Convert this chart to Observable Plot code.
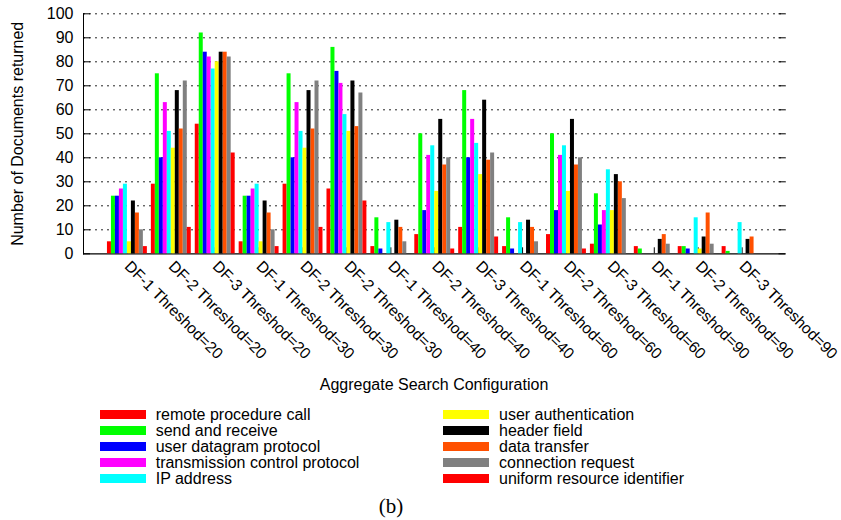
<!DOCTYPE html>
<html>
<head>
<meta charset="utf-8">
<script src="https://cdn.jsdelivr.net/npm/d3@7"></script>
<script src="https://cdn.jsdelivr.net/npm/@observablehq/plot@0.6"></script>
<style>
  body { margin: 0; background: #fff; }
  #wrap { position: relative; width: 841px; height: 520px; font-family: "Liberation Sans", Arial, Helvetica, sans-serif; color: #000; overflow: hidden; }
  #chart { position: relative; width: 841px; height: 380px; }
  #chart svg { display: block; overflow: visible; position: absolute; left: 0; top: 0; }
  .xtitle { position: absolute; left: 83px; width: 702px; top: 377px; text-align: center; font-size: 16px; line-height: 16px; white-space: nowrap; }
  .sw { position: absolute; width: 46px; height: 9px; }
  .lt { position: absolute; font-size: 16px; line-height: 16px; white-space: nowrap; }
  .cap { position: absolute; left: 341px; width: 100px; top: 496px; text-align: center; font-family: "Liberation Serif", "DejaVu Serif", serif; font-size: 21px; line-height: 21px; }
</style>
</head>
<body>
<div id="wrap">
  <div id="chart"></div>
  <div class="xtitle">Aggregate Search Configuration</div>
  <div id="legend"></div>
  <div class="cap">(b)</div>
</div>
<script>
// ---- data ----
const groupLabels = [
  "DF-1 Threshod=20", "DF-2 Threshod=20", "DF-3 Threshod=20",
  "DF-1 Threshod=30", "DF-2 Threshod=30", "DF-2 Threshod=30",
  "DF-1 Threshod=40", "DF-2 Threshod=40", "DF-3 Threshod=40",
  "DF-1 Threshod=60", "DF-2 Threshod=60", "DF-3 Threshod=60",
  "DF-1 Threshod=90", "DF-2 Threshod=90", "DF-3 Threshod=90"
];
const seriesNames = [
  "remote procedure call", "send and receive", "user datagram protocol",
  "transmission control protocol", "IP address", "user authentication",
  "header field", "data transfer", "connection request", "uniform resource identifier"
];
const seriesColors = ["#ff0000", "#00ff00", "#0000ff", "#ff00ff", "#00ffff", "#ffff00", "#000000", "#ff5000", "#808080", "#ff0000"];

const remoteProcedureCall      = [5, 29, 54, 5, 29, 27, 3, 8, 11, 3, 8, 4, 3, 3, 3];
const sendAndReceive           = [24, 75, 92, 24, 75, 86, 15, 50, 68, 15, 50, 25, 2, 3, 1];
const userDatagramProtocol     = [24, 40, 84, 24, 40, 76, 2, 18, 40, 2, 18, 12, 0, 2, 0];
const transmissionControl      = [27, 63, 82, 27, 63, 71, 0, 41, 56, 0, 41, 18, 0, 0, 0];
const ipAddress                = [29, 51, 77, 29, 51, 58, 13, 45, 46, 13, 45, 35, 0, 15, 13];
const userAuthentication       = [5, 44, 80, 5, 44, 51, 0, 26, 33, 0, 26, 18, 0, 2, 0];
const headerField              = [22, 68, 84, 22, 68, 72, 14, 56, 64, 14, 56, 33, 6, 7, 6];
const dataTransfer             = [17, 52, 84, 17, 52, 53, 11, 37, 39, 11, 37, 30, 8, 17, 7];
const connectionRequest        = [10, 72, 82, 10, 72, 67, 5, 40, 42, 5, 40, 23, 4, 4, 0];
const uniformResourceId        = [3, 11, 42, 3, 11, 22, 0, 2, 7, 0, 2, 0, 0, 0, 0];

const seriesValues = [remoteProcedureCall, sendAndReceive, userDatagramProtocol, transmissionControl,
  ipAddress, userAuthentication, headerField, dataTransfer, connectionRequest, uniformResourceId];

const yTicks = [0, 10, 20, 30, 40, 50, 60, 70, 80, 90, 100];
const yTitle = "Number of Documents returned";

const rows = seriesNames.flatMap((s, si) => seriesValues[si].map((v, gi) => ({group: gi, series: s, value: v})));
const groupIdx = d3.range(groupLabels.length);

const W = 841, H = 380, ML = 83, MR = 55.5, MT = 13.3, MB = 126.7;
const frameW = W - ML - MR;
const tickLen = 7;
const font = '"Liberation Sans", Arial, Helvetica, sans-serif';
const common = {width: W, height: H, marginLeft: ML, marginRight: MR, marginTop: MT, marginBottom: MB};

// background layer: grid, y axis, frame lines
const back = Plot.plot({
  ...common,
  style: {fontFamily: font, fontSize: "16px", background: "white", overflow: "visible"},
  y: {domain: [0, 100], axis: null},
  marks: [
    Plot.ruleY(yTicks.filter(t => t > 0), {stroke: "#000", strokeWidth: 1, strokeDasharray: "2,4", strokeOpacity: 0.85}),
    Plot.ruleY(yTicks, {stroke: "#000", strokeWidth: 1, insetRight: frameW - tickLen}),
    Plot.ruleY(yTicks, {stroke: "#000", strokeWidth: 1, insetLeft: frameW - tickLen}),
    Plot.ruleY([0], {stroke: "#000", strokeWidth: 1.3}),
    Plot.frame({anchor: "left", stroke: "#000", strokeWidth: 1}),
    Plot.text(yTicks, {y: d => d, text: d => String(d), frameAnchor: "left", textAnchor: "end", dx: -10, fontSize: 16}),
    Plot.text([yTitle], {text: d => d, frameAnchor: "left", textAnchor: "middle", lineAnchor: "middle", rotate: -90, dx: -66, fontSize: 16})
  ]
});

// bar layer (faceted by configuration)
const front = Plot.plot({
  ...common,
  style: {fontFamily: font, fontSize: "16px", background: "transparent", overflow: "visible"},
  fx: {domain: groupIdx, paddingInner: 1 / 11, paddingOuter: 6 / 11, round: false, axis: null, label: null},
  x: {domain: seriesNames, padding: 0, round: false, axis: null},
  y: {domain: [0, 100], axis: null},
  color: {domain: seriesNames, range: seriesColors},
  marks: [
    Plot.axisFx({anchor: "bottom", tickSize: -6, tickFormat: () => "", label: null, stroke: "#000"}),
    Plot.barY(rows, {fx: "group", x: "series", y: "value", fill: "series"}),
    Plot.text(groupIdx, {fx: d => d, text: d => groupLabels[d], frameAnchor: "bottom", rotate: 45, textAnchor: "start", lineAnchor: "middle", dy: 10, fontSize: 15.6})
  ]
});
const chartDiv = document.getElementById("chart");
chartDiv.appendChild(back);
chartDiv.appendChild(front);

// legend
const legend = document.getElementById("legend");
const colX = [{sw: 100, tx: 155.7}, {sw: 443, tx: 499}];
seriesNames.forEach((name, i) => {
  const col = colX[Math.floor(i / 5)];
  const cy = 414.3 + 16 * (i % 5);
  const sw = document.createElement("div");
  sw.className = "sw";
  sw.style.left = col.sw + "px";
  sw.style.top = (cy - 4.5) + "px";
  sw.style.background = seriesColors[i];
  legend.appendChild(sw);
  const t = document.createElement("div");
  t.className = "lt";
  t.style.left = col.tx + "px";
  t.style.top = (cy - 7.7) + "px";
  t.textContent = name;
  legend.appendChild(t);
});
</script>
</body>
</html>
